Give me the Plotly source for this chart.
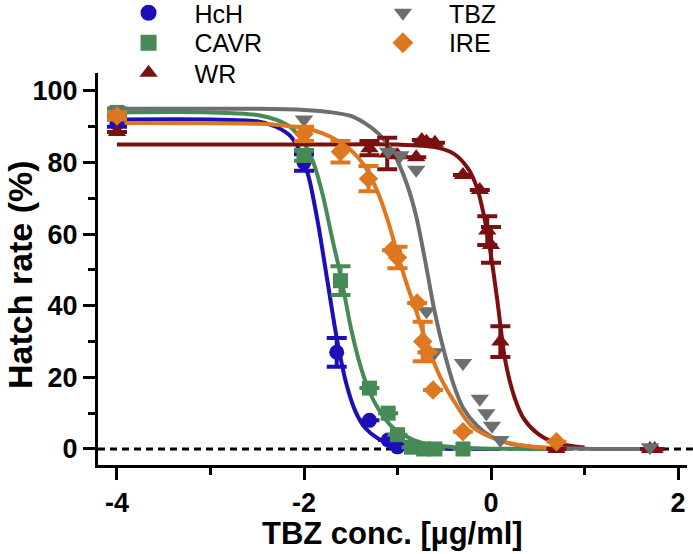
import plotly.graph_objects as go

# ---------------- data ----------------
x_tick_vals = [-4, -2, 0, 2]
x_tick_text = ["-4", "-2", "0", "2"]
x_minor_vals = [-3, -1, 1]
y_tick_vals = [0, 20, 40, 60, 80, 100]
y_tick_text = ["0", "20", "40", "60", "80", "100"]
y_minor_vals = [10, 30, 50, 70, 90]

x_title = "TBZ conc. [µg/ml]"
y_title = "Hatch rate (%)"

names = ["HcH", "CAVR", "WR", "TBZ", "IRE"]
colors = ["#1c0fb8", "#468a55", "#7a1010", "#6e6e6e", "#de7820"]
symbols = ["circle", "square", "triangle-up", "triangle-down", "diamond"]

# measured points (log10 conc, hatch rate %, SEM)
hch_x = [-4.0, -2.0, -1.65, -1.3, -1.1, -1.0]
hch_y = [91, 80, 27, 8, 2.5, 0.6]
hch_e = [1.0, 2.3, 4.0, None, None, None]

cavr_x = [-4.0, -2.0, -1.61, -1.3, -1.1, -1.0, -0.85, -0.72, -0.6, -0.3]
cavr_y = [94, 82, 47, 17, 10, 4, 0.5, 0, 0, 0]
cavr_e = [1.0, 1.5, 4.0, None, None, None, None, None, None, None]

wr_x = [-4.0, -1.3, -1.11, -1.0, -0.8, -0.74, -0.69, -0.6, -0.3, -0.12, -0.04, 0.0, 0.1, 0.7, 1.7, 1.75]
wr_y = [88.5, 84, 82.5, 82, 81.5, 86.3, 85.8, 85.5, 76.5, 72.3, 61, 57, 30, 0, 0, 0]
wr_e = [None, 2.0, 4.4, None, None, None, None, None, None, None, 4.0, 5.0, 4.3, None, None, None]

tbz_x = [-4.0, -2.0, -1.1, -0.97, -0.8, -0.69, -0.6, -0.3, -0.12, -0.05, 0.01, 0.1, 1.7]
tbz_y = [94.5, 92, 83, 82, 78, 38.5, 27, 24, 14, 10, 6.5, 2.5, 0.5]

ire_x = [-4.0, -2.0, -1.61, -1.31, -1.06, -1.0, -0.79, -0.73, -0.68, -0.62, -0.3, 0.7]
ire_y = [93, 88, 83, 75.5, 55.5, 53.5, 40.8, 30, 27, 16.5, 4.8, 2]
ire_e = [1.0, 2.0, 3.0, 3.5, None, 3.0, None, 5.5, None, None, None, None]

# fitted dose-response curves
hch_fx = [-4, -3, -2.5, -2.3, -2.15, -2.05, -1.95, -1.85, -1.75, -1.65, -1.55, -1.45, -1.35, -1.2, -1.0, -0.7, -0.3, 0.1]
hch_fy = [92, 92, 91.5, 90, 87.5, 83.5, 76, 63, 47, 31, 18.5, 10.5, 6, 2.8, 1.0, 0.3, 0.05, 0]

cavr_fx = [-4, -3, -2.5, -2.3, -2.15, -2.0, -1.9, -1.8, -1.7, -1.6, -1.5, -1.4, -1.3, -1.2, -1.05, -0.8, -0.4, 0.6]
cavr_fy = [94, 94, 93.3, 92, 90, 85.5, 80, 71, 59, 47.5, 34, 23.5, 16, 11, 6, 2.2, 0.5, 0]

wr_fx = [-4, -2, -1, -0.6, -0.4, -0.25, -0.15, -0.07, 0.0, 0.07, 0.15, 0.25, 0.35, 0.5, 0.7, 1.0]
wr_fy = [85, 85, 85, 84.3, 82.5, 78.5, 73, 64.5, 54, 41, 25, 14.5, 8.5, 4.3, 1.6, 0.4]

tbz_fx = [-4, -2.5, -2.0, -1.7, -1.5, -1.35, -1.2, -1.05, -0.9, -0.8, -0.7, -0.6, -0.5, -0.4, -0.3, -0.15, 0.0, 0.2, 0.5, 1.0, 1.7]
tbz_fy = [95, 95, 94.7, 94, 93, 91, 88, 83, 74, 65, 52, 38, 27, 18, 11.5, 6.5, 3.5, 1.5, 0.5, 0.1, 0]

ire_fx = [-4, -2.5, -2.2, -1.9, -1.7, -1.5, -1.35, -1.2, -1.1, -1.0, -0.9, -0.8, -0.7, -0.55, -0.4, -0.2, 0.1, 0.45, 0.75]
ire_fy = [91, 90.8, 90.3, 89, 87, 83.5, 79, 71, 63.5, 54.5, 46, 38.5, 30.5, 20.5, 13.5, 6.2, 2.3, 0.6, 0.2]

# ---------------- figure ----------------
FONT = "Arial, Liberation Sans, sans-serif"
fig = go.Figure()

curves = [(hch_fx, hch_fy), (cavr_fx, cavr_fy), (wr_fx, wr_fy), (tbz_fx, tbz_fy), (ire_fx, ire_fy)]
points = [(hch_x, hch_y, hch_e), (cavr_x, cavr_y, cavr_e), (wr_x, wr_y, wr_e),
          (tbz_x, tbz_y, None), (ire_x, ire_y, ire_e)]
sizes = [15, 15, 16, 16, 15]

for i, (cx, cy) in enumerate(curves):
    fig.add_trace(go.Scatter(x=cx, y=cy, mode="lines",
                             line=dict(color=colors[i], width=4, shape="spline", smoothing=0.8),
                             showlegend=False, hoverinfo="skip"))

for i, (px, py, pe) in enumerate(points):
    kw = {}
    if pe is not None:
        kw["error_y"] = dict(type="data", array=pe, visible=True, color=colors[i],
                             thickness=4, width=10)
    fig.add_trace(go.Scatter(x=px, y=py, mode="markers",
                             marker=dict(symbol=symbols[i], color=colors[i], size=sizes[i],
                                         line=dict(width=0)),
                             showlegend=False, **kw))

# legend entries: one small legend per entry, placed as in the reference (2 columns)
legend_ids = ["legend", "legend2", "legend3", "legend4", "legend5"]
legend_pos = [(0.148, 0.9765), (0.148, 0.9224), (0.148, 0.8682),
              (0.515, 0.9765), (0.515, 0.9224)]
for i, nm in enumerate(names):
    fig.add_trace(go.Scatter(x=[None], y=[None], mode="markers", name=nm,
                             marker=dict(symbol=symbols[i], color=colors[i], size=16),
                             legend=legend_ids[i]))

legend_layout = {}
for lid, (lx, ly) in zip(legend_ids, legend_pos):
    legend_layout[lid] = dict(x=lx, y=ly, xref="container", yref="container",
                              xanchor="left", yanchor="middle",
                              font=dict(family=FONT, size=25, color="black"),
                              bgcolor="rgba(0,0,0,0)", borderwidth=0, itemwidth=82)

fig.update_layout(
    width=693, height=554,
    margin=dict(l=98, r=6, t=73, b=89, autoexpand=False),
    paper_bgcolor="white", plot_bgcolor="white",
    font=dict(family=FONT, color="black"),
    xaxis=dict(range=[-4.203, 2.096], showline=True, linewidth=3, linecolor="black",
               automargin=False,
               showgrid=False, zeroline=False, ticks="outside", ticklen=12, tickwidth=3,
               tickcolor="black", tickvals=x_tick_vals, ticktext=x_tick_text,
               tickfont=dict(family=FONT, size=27, weight="bold"),
               minor=dict(tickvals=x_minor_vals, ticks="outside", ticklen=7, tickwidth=3,
                          tickcolor="black", showgrid=False)),
    yaxis=dict(range=[-4.47, 105.0], showline=True, linewidth=3, linecolor="black",
               automargin=False,
               showgrid=False, zeroline=False, ticks="outside", ticklen=12, tickwidth=3,
               tickcolor="black", tickvals=y_tick_vals, ticktext=y_tick_text,
               tickfont=dict(family=FONT, size=27, weight="bold"),
               minor=dict(tickvals=y_minor_vals, ticks="outside", ticklen=7, tickwidth=3,
                          tickcolor="black", showgrid=False)),
    annotations=[
        dict(text=x_title, xref="paper", yref="paper", x=0.5, y=-0.1735,
             xanchor="center", yanchor="middle", showarrow=False,
             font=dict(family=FONT, size=31, weight="bold", color="black")),
        dict(text=y_title, xref="paper", yref="paper", x=-0.1324, y=0.4847,
             xanchor="center", yanchor="middle", showarrow=False, textangle=-90,
             font=dict(family=FONT, size=34, weight="bold", color="black")),
    ],
    shapes=[dict(type="line", xref="paper", yref="y", x0=0, x1=1.01, y0=0, y1=0,
                 line=dict(color="black", width=3, dash="7px,5px"), layer="below")],
    **legend_layout,
)

fig.write_html("out.html", config={"displayModeBar": False},
               post_script="document.body.style.margin='0';")
